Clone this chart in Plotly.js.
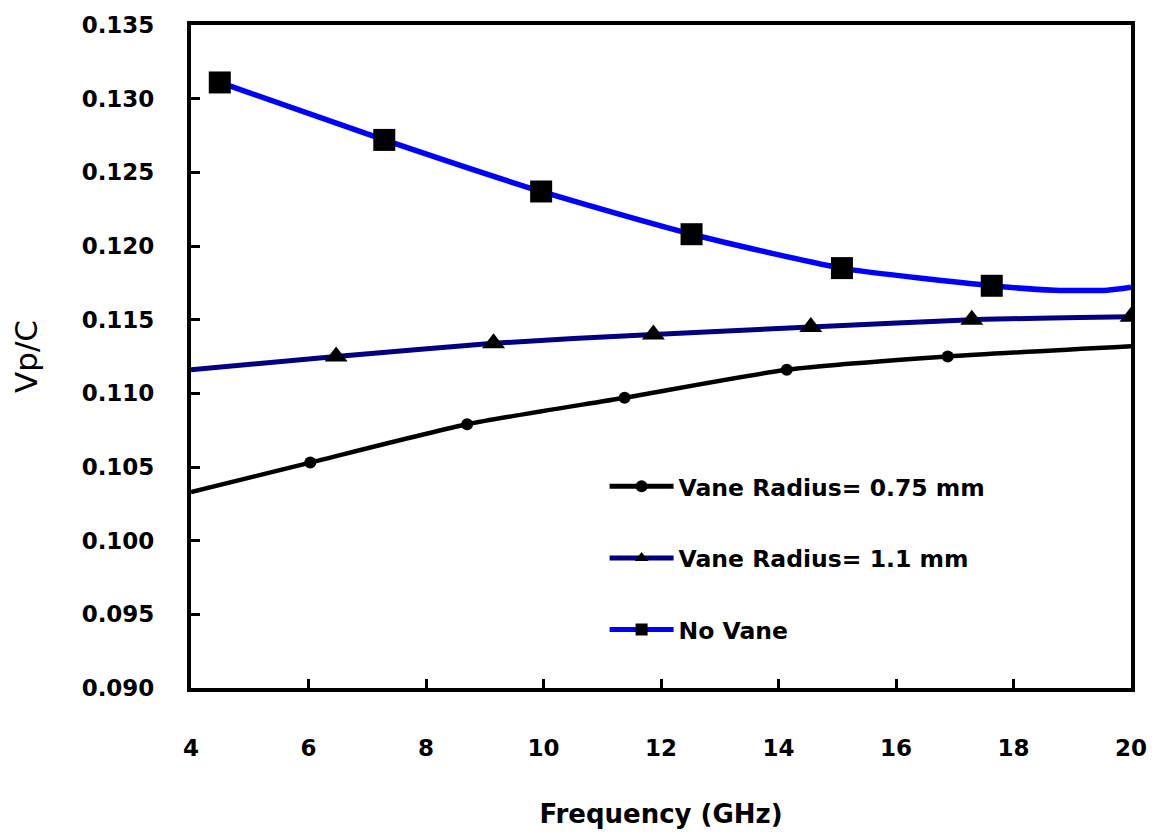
<!DOCTYPE html>
<html>
<head>
<meta charset="utf-8">
<script src="https://cdn.plot.ly/plotly-3.0.1.min.js"></script>
<style>html,body{margin:0;padding:0;background:#fff;}</style>
</head>
<body>
<div id="chart" style="width:1155px;height:836px;"></div>
<script>
// Vane Radius = 0.75 mm
const freq075 = [4, 6.03, 8.70, 11.38, 14.14, 16.88, 20];
const vp075   = [0.1033, 0.1053, 0.1079, 0.1097, 0.1116, 0.1125, 0.1132];
const mk075   = [0, 1, 1, 1, 1, 1, 0];
// Vane Radius = 1.1 mm
const freq11  = [4, 6.47, 9.15, 11.87, 14.55, 17.29, 20];
const vp11    = [0.1116, 0.1125, 0.1134, 0.1140, 0.1145, 0.1150, 0.1152];
const mk11    = [0, 1, 1, 1, 1, 1, 1];
// No Vane
const freqNo  = [4.49, 7.29, 9.96, 12.52, 15.08, 17.63, 18.7, 19.6, 20];
const vpNo    = [0.1311, 0.1272, 0.1237, 0.1208, 0.1185, 0.1173, 0.1170, 0.1170, 0.1172];
const mkNo    = [1, 1, 1, 1, 1, 1, 0, 0, 0];

const names = ['Vane Radius= 0.75 mm', 'Vane Radius= 1.1 mm', 'No Vane'];
const xTicks = [4, 6, 8, 10, 12, 14, 16, 18, 20];

const tickFont = {family: 'DejaVu Sans', size: 23, color: '#000', weight: 'bold'};

function series(x, y, mk, name, color, symbol, size, lw, grp) {
  return {
    x: x, y: y, name: name, type: 'scatter', mode: 'lines+markers',
    legendgroup: grp,
    line: {color: color, width: lw, shape: 'spline', smoothing: 0.6},
    marker: {symbol: symbol, color: '#000', opacity: 1, size: mk.map(m => m ? size : 0), line: {width: 0}}
  };
}

const data = [
  series(freq075, vp075, mk075, names[0], '#000000', 'circle', 12, 4.5, 'a'),
  series(freq11, vp11, mk11, names[1], '#000080', 'triangle-up', 20, 5, 'b'),
  series(freqNo, vpNo, mkNo, names[2], '#0000FF', 'square', 22, 5.5, 'c')
];

const layout = {
  width: 1155, height: 836,
  margin: {l: 191, r: 24, t: 25, b: 148, pad: 0},
  paper_bgcolor: '#fff', plot_bgcolor: '#fff',
  showlegend: true,
  legend: {
    x: 0.44, y: 0.337, xanchor: 'left', yanchor: 'top',
    bgcolor: 'rgba(0,0,0,0)', borderwidth: 0,
    font: {family: 'DejaVu Sans', size: 23.5, color: '#000', weight: 'bold'},
    tracegroupgap: 38, itemwidth: 64, itemsizing: 'constant'
  },
  xaxis: {
    range: [4, 20], tickvals: xTicks, ticktext: xTicks.map(String),
    showline: true, linecolor: '#000', linewidth: 4, mirror: true,
    ticks: 'inside', ticklen: 9, tickwidth: 3, tickcolor: '#000',
    showgrid: false, zeroline: false,
    tickfont: tickFont, ticklabelstandoff: 36,
    title: {text: 'Frequency (GHz)', font: {family: 'DejaVu Sans', size: 26, color: '#000', weight: 'bold'}, standoff: 46}
  },
  yaxis: {
    range: [0.090, 0.135], dtick: 0.005, tick0: 0.090, tickformat: '.3f',
    showline: true, linecolor: '#000', linewidth: 4, mirror: true,
    ticks: 'inside', ticklen: 9, tickwidth: 3, tickcolor: '#000',
    showgrid: false, zeroline: false,
    tickfont: tickFont, ticklabelstandoff: 28,
    title: {text: 'Vp/C', font: {family: 'DejaVu Sans', size: 31, color: '#000'}, standoff: 36}
  }
};

Plotly.newPlot('chart', data, layout, {displayModeBar: false, staticPlot: true});
</script>
</body>
</html>
